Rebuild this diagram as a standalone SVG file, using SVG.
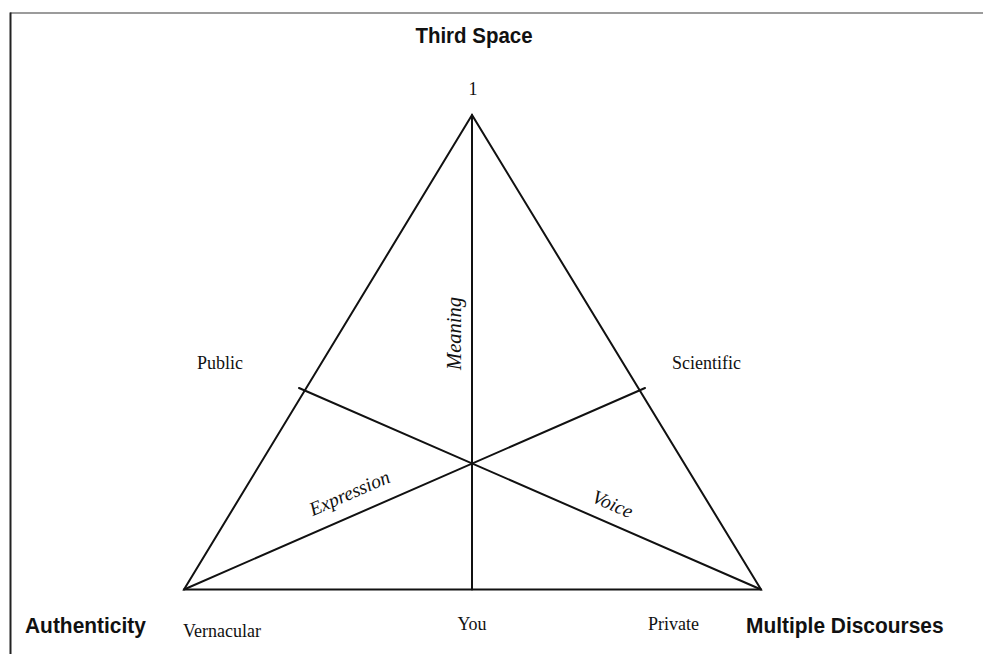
<svg xmlns="http://www.w3.org/2000/svg" width="983" height="654" viewBox="0 0 983 654">
<style>
.line{stroke:#111;stroke-width:2;fill:none;stroke-linecap:round}
.title{font-family:"Liberation Sans",Arial,sans-serif;font-weight:bold;font-size:22.5px;fill:#111}
.lbl{font-family:"Liberation Serif","Times New Roman",serif;font-size:18px;fill:#111}
.it{font-family:"Liberation Serif","Times New Roman",serif;font-style:italic;font-size:19.5px;fill:#111}
</style>
<rect width="983" height="654" fill="#fff"/>
<g id="frame">
<line x1="10" y1="13" x2="983" y2="13" stroke="#7a7a7a" stroke-width="1.6"/>
<line x1="10.5" y1="12.5" x2="10.5" y2="654" stroke="#222" stroke-width="2"/>
</g>
<g id="connectors">
<polygon class="line" points="472,115 184,589.5 761,589.5" stroke-linejoin="miter"/>
<line class="line" x1="472" y1="115" x2="472" y2="589.5"/>
<line class="line" x1="184" y1="589.5" x2="645" y2="388"/>
<line class="line" x1="761" y1="589.5" x2="299" y2="388"/>
</g>
<g id="node-third-space">
<text class="title" transform="translate(474,43) scale(0.91,1)" text-anchor="middle">Third Space</text>
<text class="lbl" x="473" y="95" text-anchor="middle">1</text>
</g>
<g id="node-authenticity">
<text class="title" transform="translate(25,633) scale(0.93,1)">Authenticity</text>
</g>
<g id="node-multiple-discourses">
<text class="title" transform="translate(746,633) scale(0.93,1)">Multiple Discourses</text>
</g>
<g id="node-public"><text class="lbl" x="197" y="369">Public</text></g>
<g id="node-scientific"><text class="lbl" x="672" y="369">Scientific</text></g>
<g id="node-vernacular"><text class="lbl" x="183" y="637">Vernacular</text></g>
<g id="node-you"><text class="lbl" x="472" y="630" text-anchor="middle">You</text></g>
<g id="node-private"><text class="lbl" x="648" y="630">Private</text></g>
<g id="node-meaning"><text class="it" style="font-size:20.5px" transform="translate(461,333.5) rotate(-90)" text-anchor="middle">Meaning</text></g>
<g id="node-expression"><text class="it" transform="translate(352,499) rotate(-23.6)" text-anchor="middle">Expression</text></g>
<g id="node-voice"><text class="it" transform="translate(610,510) rotate(23.6)" text-anchor="middle">Voice</text></g>
</svg>
